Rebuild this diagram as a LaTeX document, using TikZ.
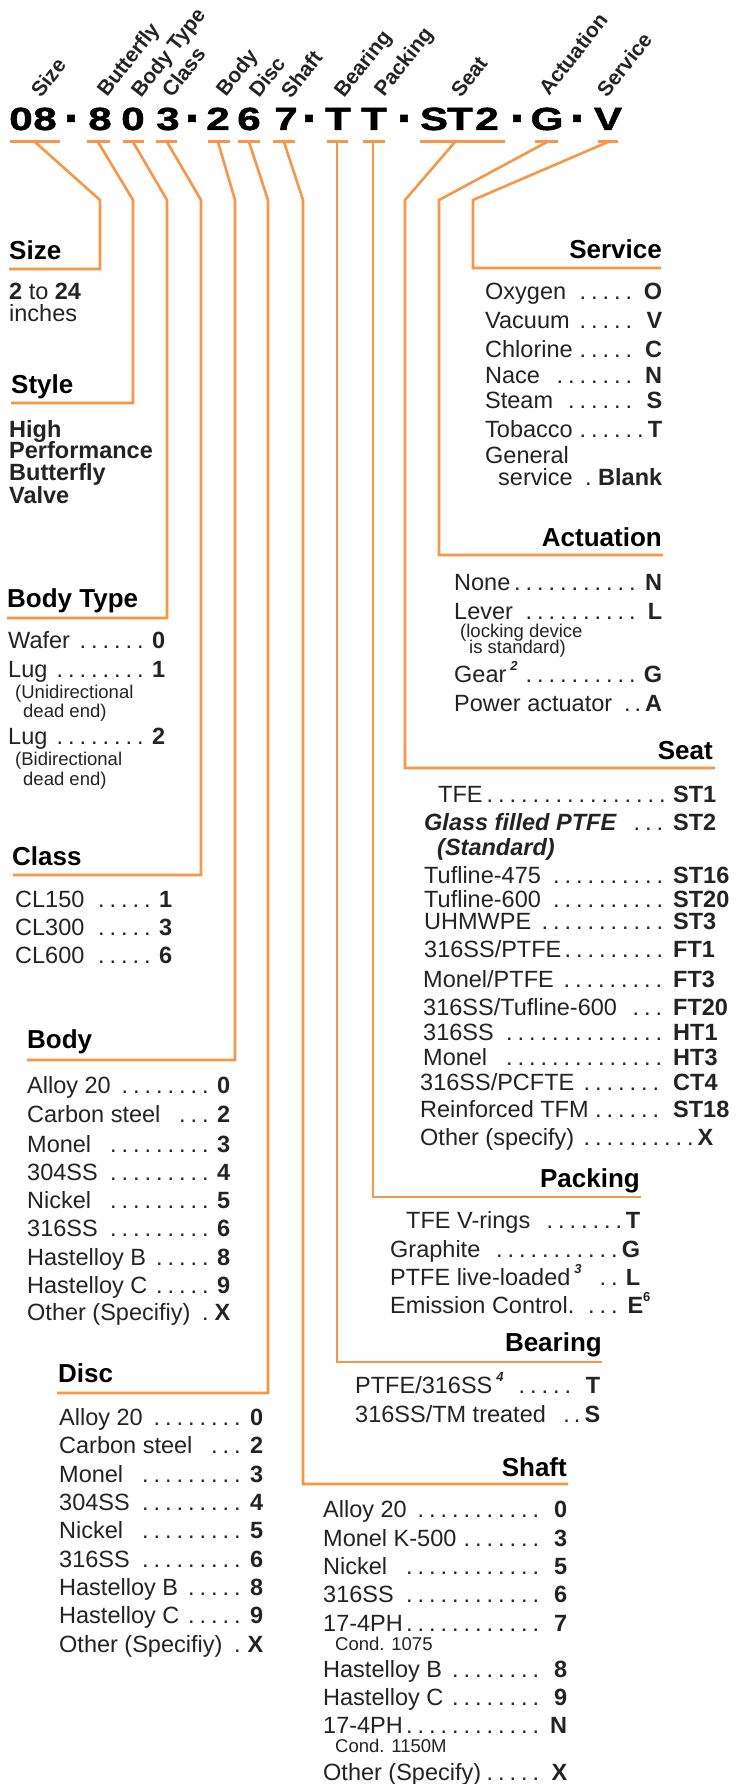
\documentclass[tikz,border=0pt]{standalone}
\usepackage{graphicx}
\usepackage{fontspec}
\setmainfont{Liberation Sans}
\newfontfamily\codefont{Liberation Sans}[FakeStretch=1.32,FakeBold=1.5]
\definecolor{org}{RGB}{247,150,70}
\definecolor{ink}{RGB}{35,35,35}
\newdimen\dlsp \dlsp=11.5pt
\newcommand\dl{\leaders\hbox to \dlsp{\hss.\hss}\hfill\kern1pt}
\newcommand\fnm[1]{\raisebox{0.5em}{\fontsize{13}{13}\selectfont\bfseries\itshape #1}}
% right-aligned code: name, x, y, width, label, code
\newcommand\rrow[6]{\node[itm] (#1) at (#2,#3) {\hbox to #4pt{#5\dl\textbf{#6}}};}
% code starting at width: name, x, y, width, label, code
\newcommand\lrow[6]{\node[itm] (#1) at (#2,#3) {\hbox to #4pt{#5\dl\kern3pt}\rlap{\textbf{#6}}};}
\newcommand\cdash{\raisebox{-2.5pt}{\scalebox{0.68}[1.7]{-}}}
\tikzset{
  itm/.style={anchor=base west, inner sep=0pt, text=ink, font=\fontsize{23.5}{26}\selectfont},
  itmb/.style={itm, font=\fontsize{23.5}{26}\selectfont\bfseries},
  sml/.style={anchor=base west, inner sep=0pt, text=ink, font=\fontsize{18.5}{20}\selectfont},
  ttlL/.style={anchor=base west, inner sep=0pt, text=black, font=\fontsize{26}{30}\selectfont\bfseries},
  ttlR/.style={anchor=base east, inner sep=0pt, text=black, font=\fontsize{26}{30}\selectfont\bfseries},
  lbl/.style={anchor=base west, inner sep=0pt, rotate=52, text=ink, font=\fontsize{21}{24}\selectfont\bfseries},
  cde/.style={anchor=base, inner sep=0pt, text=black, font=\codefont\fontsize{32}{34}\selectfont\bfseries},
  wire/.style={draw=org, line width=2.6pt},
  uline/.style={draw=org, line width=3pt}
}
\begin{document}
\begin{tikzpicture}[x=1pt,y=-1pt]
\fill[white] (0,0) rectangle (738,1784);
\useasboundingbox (0,0) rectangle (738,1784);

% ---------- rotated field labels ----------
\node[lbl] (lSize) at (41,99) {Size};
\node[lbl] (lBut) at (107,98) {Butterfly};
\node[lbl] (lBT) at (141,99) {Body Type};
\node[lbl] (lCl) at (172,99) {Class};
\node[lbl] (lBo) at (226,98) {Body};
\node[lbl] (lDi) at (259,99) {Disc};
\node[lbl] (lSh) at (291,100) {Shaft};
\node[lbl] (lBe) at (344,99) {Bearing};
\node[lbl] (lPa) at (384,98) {Packing};
\node[lbl] (lSe) at (461,99) {Seat};
\node[lbl] (lAc) at (549,97) {Actuation};
\node[lbl] (lSv) at (607,99) {Service};

% ---------- code characters ----------
\node[cde] (c1) at (21,130) {0};
\node[cde] (c2) at (45,130) {8};
\node[cde] (d1) at (71,130) {\cdash};
\node[cde] (c3) at (100,130) {8};
\node[cde] (c4) at (133,130) {0};
\node[cde] (c5) at (168,130) {3};
\node[cde] (d2) at (192,130) {\cdash};
\node[cde] (c6) at (218,130) {2};
\node[cde] (c7) at (249,130) {6};
\node[cde] (c8) at (286,130) {7};
\node[cde] (d3) at (309,130) {\cdash};
\node[cde] (c9) at (338,130) {T};
\node[cde] (c10) at (374,130) {T};
\node[cde] (d4) at (404,130) {\cdash};
\node[cde] (c11) at (434,130) {S};
\node[cde] (c12) at (460,130) {T};
\node[cde] (c13) at (487,130) {2};
\node[cde] (d5) at (517,130) {\cdash};
\node[cde] (c14) at (547,130) {G};
\node[cde] (d6) at (577,130) {\cdash};
\node[cde] (c15) at (608,130) {V};

% ---------- underlines ----------
\draw[uline] (10,142) -- (60,142);
\draw[uline] (87,142) -- (110,142);
\draw[uline] (123,142) -- (144,142);
\draw[uline] (156,142) -- (177,142);
\draw[uline] (208,142) -- (230,142);
\draw[uline] (238,142) -- (260,142);
\draw[uline] (273,142) -- (295,142);
\draw[uline] (327,142) -- (348,142);
\draw[uline] (363,142) -- (385,142);
\draw[uline] (420,142) -- (505,142);
\draw[uline] (535,142) -- (558,142);
\draw[uline] (598,142) -- (618,142);

% ---------- connector coordinates ----------
\coordinate (a1) at (35,142);  \coordinate (b1) at (100,200); \coordinate (e1) at (9,269);
\coordinate (a2) at (98,142);  \coordinate (b2) at (133,200); \coordinate (e2) at (11,403);
\coordinate (a3) at (133,142); \coordinate (b3) at (167,200); \coordinate (e3) at (7,618);
\coordinate (a4) at (167,142); \coordinate (b4) at (201,200); \coordinate (e4) at (13,875);
\coordinate (a5) at (218,142); \coordinate (b5) at (235,200); \coordinate (e5) at (27,1060);
\coordinate (a6) at (249,142); \coordinate (b6) at (268,200); \coordinate (e6) at (57,1393);
\coordinate (a7) at (284,142); \coordinate (b7) at (303,200); \coordinate (e7) at (568,1484);
\coordinate (a8) at (337,142); \coordinate (b8) at (337,200); \coordinate (e8) at (602,1362);
\coordinate (a9) at (373,142); \coordinate (b9) at (373,200); \coordinate (e9) at (641,1197);
\coordinate (a10) at (455,142); \coordinate (b10) at (405,200); \coordinate (e10) at (715,768);
\coordinate (a11) at (547,142); \coordinate (b11) at (439,200); \coordinate (e11) at (663,555);
\coordinate (a12) at (608,142); \coordinate (b12) at (473,200); \coordinate (e12) at (661,268);

\foreach \i in {1,...,12} {\draw[wire] (a\i) -- (b\i) |- (e\i);}

% ---------- Size ----------
\node[ttlL] (tSize) at (9,260) {Size};
\node[itm] (sz1) at (9,300) {\textbf{2} to \textbf{24}};
\node[itm] (sz2) at (9,322) {inches};

% ---------- Style ----------
\node[ttlL] (tStyle) at (11,393) {Style};
\node[itmb] (sy1) at (9,437) {High};
\node[itmb] (sy2) at (9,458) {Performance};
\node[itmb] (sy3) at (9,480) {Butterfly};
\node[itmb] (sy4) at (9,503) {Valve};

% ---------- Body Type ----------
\node[ttlL] (tBT) at (7,607) {Body Type};
\rrow{bt1}{8}{648}{157}{Wafer}{0}
\rrow{bt2}{8}{677}{157}{Lug }{1}
\node[sml] (bt2a) at (15,698) {(Unidirectional};
\node[sml] (bt2b) at (23,717) {dead end)};
\rrow{bt3}{8}{744}{157}{Lug }{2}
\node[sml] (bt3a) at (15,765) {(Bidirectional};
\node[sml] (bt3b) at (23,785) {dead end)};

% ---------- Class ----------
\node[ttlL] (tCl) at (12,865) {Class};
\rrow{cl1}{15}{907}{157}{CL150 }{1}
\rrow{cl2}{15}{935}{157}{CL300 }{3}
\rrow{cl3}{15}{963}{157}{CL600 }{6}

% ---------- Body ----------
\node[ttlL] (tBo) at (27,1048) {Body};
\rrow{bo1}{27}{1093}{203}{Alloy 20 }{0}
\rrow{bo2}{27}{1122}{203}{Carbon steel }{2}
\rrow{bo3}{27}{1152}{203}{Monel }{3}
\rrow{bo4}{27}{1180}{203}{304SS }{4}
\rrow{bo5}{27}{1208}{203}{Nickel }{5}
\rrow{bo6}{27}{1236}{203}{316SS }{6}
\rrow{bo7}{27}{1265}{203}{Hastelloy B}{8}
\rrow{bo8}{27}{1293}{203}{Hastelloy C}{9}
\rrow{bo9}{27}{1320}{203}{Other (Specifiy) }{X}

% ---------- Disc ----------
\node[ttlL] (tDi) at (58,1382) {Disc};
\rrow{di1}{59}{1425}{204}{Alloy 20 }{0}
\rrow{di2}{59}{1453}{204}{Carbon steel }{2}
\rrow{di3}{59}{1482}{204}{Monel }{3}
\rrow{di4}{59}{1510}{204}{304SS }{4}
\rrow{di5}{59}{1538}{204}{Nickel }{5}
\rrow{di6}{59}{1567}{204}{316SS }{6}
\rrow{di7}{59}{1595}{204}{Hastelloy B}{8}
\rrow{di8}{59}{1623}{204}{Hastelloy C}{9}
\rrow{di9}{59}{1652}{204}{Other (Specifiy) }{X}

% ---------- Service ----------
\node[ttlR] (tSv) at (662,259) {Service};
\rrow{sv1}{485}{300}{177}{Oxygen }{O}
\rrow{sv2}{485}{328}{177}{Vacuum }{V}
\rrow{sv3}{485}{357}{177}{Chlorine}{C}
\rrow{sv4}{485}{383}{177}{Nace }{N}
\rrow{sv5}{485}{408}{177}{Steam }{S}
\rrow{sv6}{485}{437}{177}{Tobacco}{T}
\node[itm] (sv7) at (485,463) {General};
\node[itm] (sv8) at (498,485) {\hbox to 164pt{service\hfill.\ \textbf{Blank}}};

% ---------- Actuation ----------
\node[ttlR] (tAc) at (662,546) {Actuation};
\rrow{ac1}{454}{590}{208}{None}{N}
\rrow{ac2}{454}{619}{208}{Lever}{L}
\node[sml] (ac2a) at (460,637) {(locking device};
\node[sml] (ac2b) at (469,653) {is standard)};
\rrow{ac3}{454}{682}{208}{Gear\,\fnm{2}}{G}
\node[itm] (ac4) at (454,711) {\hbox to 208pt{Power actuator\hfill.\kern4pt.\kern4pt\textbf{A}}};

% ---------- Seat ----------
\node[ttlR] (tSe) at (713,759) {Seat};
\lrow{se1}{438}{802}{235}{TFE}{ST1}
\lrow{se2}{424}{830}{249}{\textbf{\textit{Glass filled PTFE}} }{ST2}
\node[itm] (se2a) at (437,855) {\textbf{\textit{(Standard)}}};
\lrow{se3}{424}{883}{249}{Tufline-475 }{ST16}
\lrow{se4}{424}{907}{249}{Tufline-600 }{ST20}
\lrow{se5}{424}{929}{249}{UHMWPE }{ST3}
\lrow{se6}{424}{957}{249}{316SS/PTFE}{FT1}
\lrow{se7}{423}{987}{250}{Monel/PTFE }{FT3}
\lrow{se8}{423}{1015}{250}{316SS/Tufline-600 }{FT20}
\lrow{se9}{423}{1040}{250}{316SS}{HT1}
\lrow{se10}{423}{1065}{250}{Monel }{HT3}
\lrow{se11}{420}{1090}{253}{316SS/PCFTE}{CT4}
\lrow{se12}{420}{1117}{253}{Reinforced TFM}{ST18}
\rrow{se13}{420}{1145}{293}{Other (specify) }{X}

% ---------- Packing ----------
\node[ttlR] (tPa) at (640,1187) {Packing};
\rrow{pa1}{406}{1228}{234}{TFE V-rings }{T}
\rrow{pa2}{390}{1257}{250}{Graphite }{G}
\rrow{pa3}{390}{1285}{250}{PTFE live-loaded\,\fnm{3} }{L}
\node[itm] (pa4) at (390,1313) {\hbox to 253pt{Emission Control.\dl\textbf{E}}\rlap{\raisebox{0.5em}{\fontsize{13}{13}\selectfont\bfseries 6}}};

% ---------- Bearing ----------
\node[ttlR] (tBe) at (602,1351) {Bearing};
\rrow{be1}{355}{1393}{245}{PTFE/316SS\,\fnm{4} }{T}
\node[itm] (be2) at (355,1422) {\hbox to 245pt{316SS/TM treated\hfill.\kern4pt.\kern4pt\textbf{S}}};

% ---------- Shaft ----------
\node[ttlR] (tSh) at (567,1476) {Shaft};
\rrow{sh1}{323}{1517}{244}{Alloy 20 }{0}
\rrow{sh2}{323}{1546}{244}{Monel K-500}{3}
\rrow{sh3}{323}{1574}{244}{Nickel }{5}
\rrow{sh4}{323}{1602}{244}{316SS}{6}
\rrow{sh5}{323}{1631}{244}{17-4PH}{7}
\node[sml] (sh5a) at (335,1650) {Cond. 1075};
\rrow{sh6}{323}{1677}{244}{Hastelloy B}{8}
\rrow{sh7}{323}{1705}{244}{Hastelloy C}{9}
\rrow{sh8}{323}{1733}{244}{17-4PH}{N}
\node[sml] (sh8a) at (335,1752) {Cond. 1150M};
\rrow{sh9}{323}{1780}{244}{Other (Specify)}{X}
\end{tikzpicture}
\end{document}
